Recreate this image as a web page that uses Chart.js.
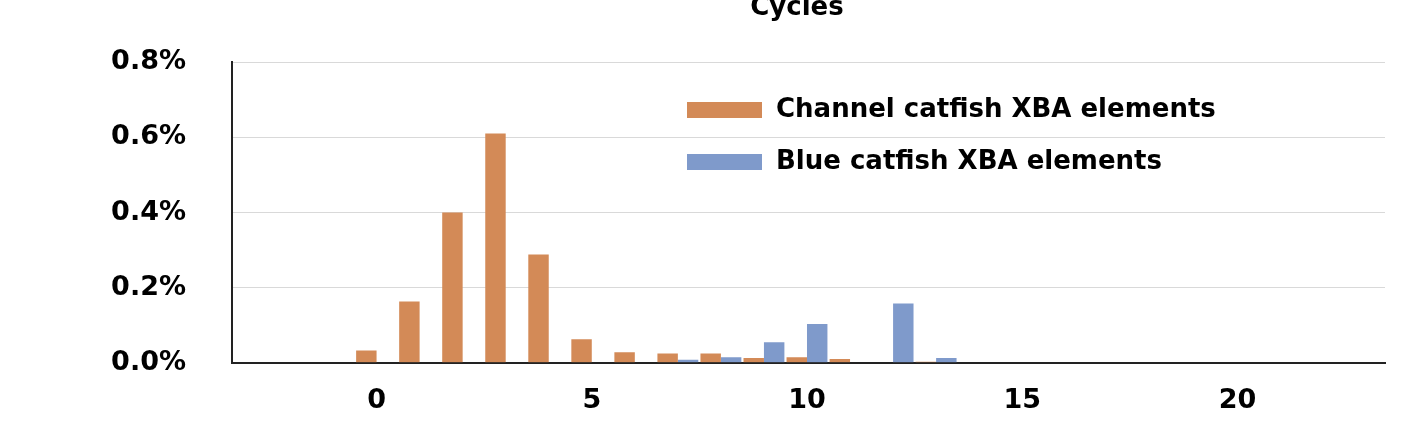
<!DOCTYPE html>
<html>
<head>
<script src="https://cdn.jsdelivr.net/npm/chart.js@4/dist/chart.umd.min.js"></script>
<style>body{margin:0;background:#fff}#wrap{width:1418px;height:425px}</style>
</head>
<body>
<div id="wrap"><canvas id="c"></canvas></div>
<script>
var cycles = [];
for (var i = 0; i <= 20; i++) cycles.push(i);
var channelLabel = 'Channel catfish XBA elements';
var blueLabel = 'Blue catfish XBA elements';
// percent values
var channelVals = [0.033,0.163,0.40,0.61,0.288,0.063,0.028,0.025,0.025,0.013,0.015,0.01,0,0.003,0,0,0,0,0,0,0];
var blueVals = [0,0,0,0,0,0,0,0.008,0.015,0.055,0.103,0,0.158,0.013,0,0,0,0,0,0,0];
var yTicks = [0,0.2,0.4,0.6,0.8];

var FONT = 'DejaVu Sans, sans-serif';

function pts(vals) {
	return vals.map(function(v, i) { return { x: cycles[i], y: v }; });
}

var extras = {
	id: 'extras',
	afterDraw: function(chart) {
		var ctx = chart.ctx;
		ctx.save();
		ctx.fillStyle = '#000';
		ctx.font = 'bold 26px ' + FONT;
		ctx.textAlign = 'center';
		ctx.textBaseline = 'middle';
		ctx.fillText('Cycles', 797, 8);
		var items = chart.data.datasets;
		ctx.textAlign = 'left';
		for (var k = 0; k < items.length; k++) {
			var y = 110 + k * 52;
			ctx.fillStyle = items[k].backgroundColor;
			ctx.fillRect(687, y - 8, 75, 16);
			ctx.fillStyle = '#000';
			ctx.fillText(items[k].label, 776, y);
		}
		ctx.restore();
	}
};

new Chart(document.getElementById('c'), {
	type: 'bar',
	data: {
		datasets: [
			{ label: channelLabel, data: pts(channelVals), backgroundColor: '#D38A57', categoryPercentage: 0.95, barPercentage: 1 },
			{ label: blueLabel, data: pts(blueVals), backgroundColor: '#7F9ACB', categoryPercentage: 0.95, barPercentage: 1 }
		]
	},
	options: {
		responsive: true,
		maintainAspectRatio: false,
		animation: false,
		layout: { padding: { top: 57, right: 33, left: 0, bottom: 0 } },
		plugins: { legend: { display: false }, tooltip: { enabled: false } },
		scales: {
			x: {
				type: 'linear', min: -0.68, max: 20.75,
				afterFit: function(s) { s.height = 49; },
				afterBuildTicks: function(s) { s.ticks = [0,5,10,15,20].map(function(v) { return { value: v }; }); },
				grid: { display: false },
				border: { color: '#222', width: 2 },
				ticks: {
					maxRotation: 0, color: '#000', padding: 14,
					font: { family: FONT, size: 27, weight: 'bold' }
				}
			},
			y: {
				min: 0, max: 0.8,
				afterFit: function(s) { s.width = 232; },
				afterBuildTicks: function(s) { s.ticks = yTicks.map(function(v) { return { value: v }; }); },
				grid: { color: '#d9d9d9', tickLength: 0 },
				border: { color: '#222', width: 2 },
				ticks: {
					color: '#000', padding: 46,
					font: { family: FONT, size: 27, weight: 'bold' },
					callback: function(v) { return v.toFixed(1) + '%'; }
				}
			}
		}
	},
	plugins: [extras]
});
</script>
</body>
</html>
